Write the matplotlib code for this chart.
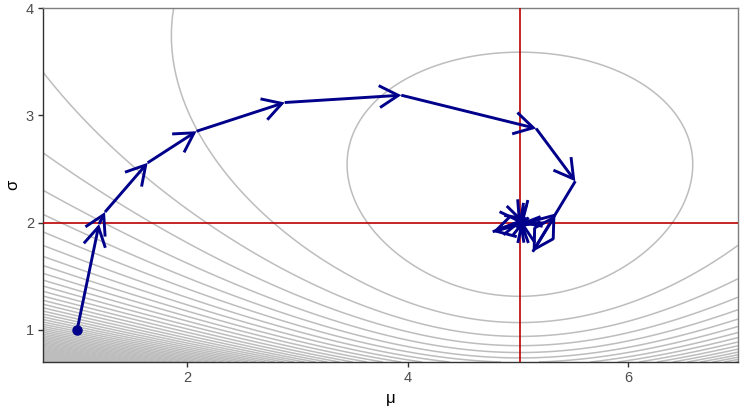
import numpy as np
import matplotlib
matplotlib.use("Agg")
import matplotlib.pyplot as plt

# ---- data ----
mle_mu = 5.02
mle_sigma = 1.995
sample_var = 4.0

mu_path = [1.00, 1.199, 1.253, 1.640, 2.084, 2.885, 3.943, 5.167, 5.523, 5.136,
           5.342, 4.773, 5.10, 4.99, 5.06, 5.005, 5.035, 5.05, 5.01, 5.03, 5.02]
sigma_path = [1.00, 1.986, 2.098, 2.557, 2.851, 3.119, 3.187, 2.877, 2.385, 1.727,
              2.070, 1.914, 2.045, 1.95, 2.03, 1.96, 2.04, 1.985, 2.02, 1.99, 1.995]

x_ticks = [2, 4, 6]
y_ticks = [1, 2, 3, 4]
mu_range = (0.69, 7.0)
sigma_range = (0.70, 4.0)
level_start = 1.433
level_step = 0.387

plt.rcParams['font.family'] = ['Liberation Sans', 'DejaVu Sans']

fig = plt.figure(figsize=(7.47, 4.16), dpi=100)
ax = fig.add_axes([43/747, 1-362/416, (738-43)/747, (362-8)/416])

# negative log-likelihood surface (per observation)
mu_g = np.linspace(mu_range[0], mu_range[1], 700)
sg_g = np.linspace(sigma_range[0], sigma_range[1], 500)
M, S = np.meshgrid(mu_g, sg_g)
F = np.log(S) + (sample_var + (M - mle_mu) ** 2) / (2 * S ** 2)
levels = np.arange(level_start, F.max() + level_step, level_step)
ax.contour(M, S, F, levels=levels, colors='#bdbdbd', linewidths=1.1, linestyles='solid')

# estimate lines
ax.axvline(mle_mu, color='#bb0000', lw=1.2, zorder=3)
ax.axhline(mle_sigma, color='#bb0000', lw=1.2, zorder=3)

# path with arrows
col = '#00008B'
for i in range(len(mu_path) - 1):
    ax.annotate('', xy=(mu_path[i+1], sigma_path[i+1]), xytext=(mu_path[i], sigma_path[i]),
                arrowprops=dict(arrowstyle='->,head_length=13.7,head_width=7.9',
                                mutation_scale=1, color=col, lw=2.1,
                                shrinkA=0, shrinkB=0, capstyle='butt', joinstyle='miter'),
                zorder=4)
ax.plot([mu_path[0]], [sigma_path[0]], 'o', color=col, ms=6.5, zorder=5)

ax.set_xlim(*mu_range)
ax.set_ylim(*sigma_range)
ax.set_xticks(x_ticks)
ax.set_yticks(y_ticks)
ax.tick_params(axis='both', length=3.5, width=1, color='#333333', labelsize=10.5,
               labelcolor='#4d4d4d', pad=3)
ax.set_xlabel('μ', fontsize=12, color='black', labelpad=4)
ax.set_ylabel('σ', fontsize=12, color='black', labelpad=4, rotation=90)

for s in ['left', 'bottom']:
    ax.spines[s].set_color('#333333')
    ax.spines[s].set_linewidth(1)
for s in ['top', 'right']:
    ax.spines[s].set_color('#7f7f7f')
    ax.spines[s].set_linewidth(1)

fig.savefig('out.png', dpi=100)
